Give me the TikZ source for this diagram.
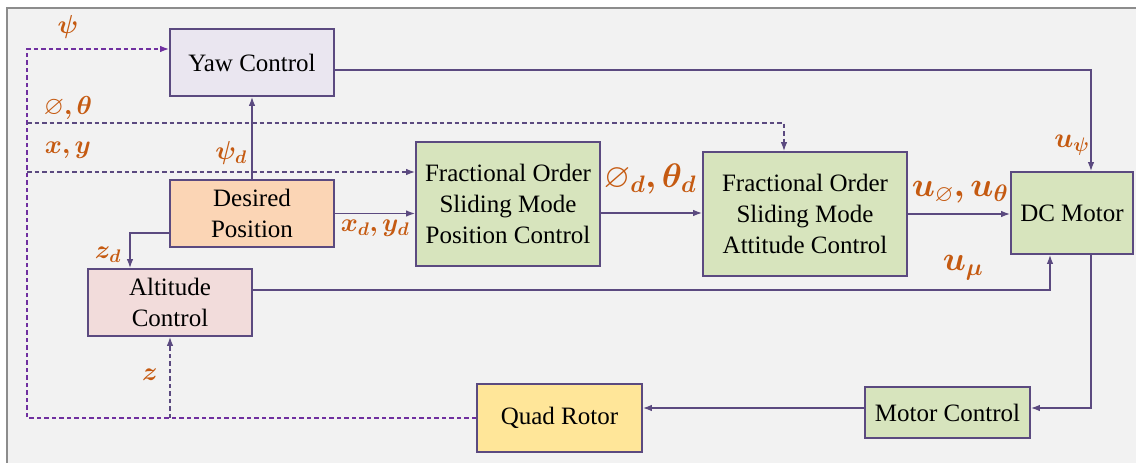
\RequirePackage{fix-cm}
\documentclass[tikz,border=0pt]{standalone}
\usepackage{amsmath,amssymb,bm}
\usepackage{fontspec}
\setmainfont{Liberation Serif}
\newfontfamily\boxfont{Liberation Serif}
\usetikzlibrary{arrows.meta, positioning, calc}

\definecolor{lineC}{HTML}{5B4A80}
\definecolor{fbC}{HTML}{7030A0}
\definecolor{lblC}{HTML}{C55A11}
\definecolor{bgC}{HTML}{F2F2F2}
\definecolor{frameC}{HTML}{8C8C8C}
\definecolor{yawC}{HTML}{EAE6F0}
\definecolor{desC}{HTML}{FBD5B5}
\definecolor{altC}{HTML}{F2DCDB}
\definecolor{fosC}{HTML}{D7E4BD}
\definecolor{quadC}{HTML}{FFE699}

\begin{document}
\begin{tikzpicture}[x=1pt, y=-1pt,
      blk/.style={draw=lineC, line width=1.6pt, inner sep=0pt, align=center,
                  font=\boxfont\fontsize{25}{31}\selectfont},
      sig/.style={draw=lineC, line width=1.6pt, -{Latex[length=9pt, width=6.5pt]}},
      dsig/.style={sig, dash pattern=on 4.5pt off 3pt},
      fb/.style={dsig, draw=fbC},
      lbl/.style={text=lblC, inner sep=0pt, font=\fontsize{26}{30}\selectfont},
      big/.style={lbl, font=\fontsize{34}{40}\selectfont}]

    % page and frame
    \useasboundingbox (0,0) rectangle (1136,463);
    \fill[white] (0,0) rectangle (1136,463);
    \fill[bgC] (7,8) rectangle (1136,463);
    \draw[frameC, line width=1.4pt] (7,463) -- (7,8) -- (1136,8);

    % blocks
    \node[blk, fill=yawC,  minimum width=164pt, minimum height=67pt]  (yaw)       at (252,62.5)  {Yaw Control};
    \node[blk, fill=desC,  minimum width=164pt, minimum height=67pt]  (desired)   at (252,213.5) {Desired\\Position};
    \node[blk, fill=altC,  minimum width=164pt, minimum height=67pt]  (alt)       at (170,302.5) {Altitude\\Control};
    \node[blk, fill=fosC,  minimum width=184pt, minimum height=124pt] (posctrl)   at (508,204)   {Fractional Order\\Sliding Mode\\Position Control};
    \node[blk, fill=fosC,  minimum width=204pt, minimum height=124pt] (attctrl)   at (805,214)   {Fractional Order\\Sliding Mode\\Attitude Control};
    \node[blk, fill=fosC,  minimum width=122pt, minimum height=82pt]  (dcm)       at (1072,213)  {DC Motor};
    \node[blk, fill=fosC,  minimum width=165pt, minimum height=51pt]  (motorctrl) at (947.5,412.5) {Motor Control};
    \node[blk, fill=quadC, minimum width=165pt, minimum height=68pt]  (quad)      at (559.5,418) {Quad Rotor};

    % feedback corners
    \coordinate (lt) at (27,49);
    \coordinate (lb) at (27,418);
    \coordinate (pt) at (27,123);
    \coordinate (xy) at (27,172);

    % feedback paths (dashed)
    \draw[fb] (quad.west) -- (lb) -- (lt) -- (lt -| yaw.west);
    \draw[dsig] (pt) -| ([xshift=-21pt]attctrl.north);
    \draw[dsig] (xy) -- (xy -| posctrl.west);
    \draw[dsig] (lb -| alt.south) -- (alt.south);

    % forward paths
    \draw[sig] (desired.north) -- (yaw.south);
    \draw[sig] (desired.east) -- (desired.east -| posctrl.west);
    \draw[sig] ([yshift=-19.5pt]desired.west) -| ([xshift=-40pt]alt.north);
    \draw[sig] ([yshift=-7.5pt]yaw.east) -| ([xshift=19pt]dcm.north);
    \draw[sig] ([yshift=12.5pt]alt.east) -| ([xshift=-22pt]dcm.south);
    \draw[sig] ([yshift=-9pt]posctrl.east) -- ([yshift=-9pt]posctrl.east -| attctrl.west);
    \draw[sig] (attctrl.east) -- (attctrl.east -| dcm.west);
    \draw[sig] ([xshift=19pt]dcm.south) |- ([yshift=4.5pt]motorctrl.east);
    \draw[sig] ([yshift=4.5pt]motorctrl.west) -- ([yshift=4.5pt]motorctrl.west -| quad.east);

    % signal labels
    \node[lbl] (lpsi)  at (68,27)   {$\bm{\psi}$};
    \node[lbl] (lphth) at (68,108)  {$\varnothing\bm{,\theta}$};
    \node[lbl] (lxy)   at (68,150)  {$\bm{x,y}$};
    \node[lbl] (lpsid) at (231,153) {$\bm{\psi_d}$};
    \node[lbl] (lxyd)  at (375,228) {$\bm{x_d,y_d}$};
    \node[lbl] (lzd)   at (108,255) {$\bm{z_d}$};
    \node[lbl] (lz)    at (150,375) {$\bm{z}$};
    \node[big] (lphd)  at (650,179) {$\varnothing_{\bm{d}}\bm{,\theta_d}$};
    \node[big] (lu)    at (960,192) {$\bm{u}_{\varnothing}\bm{,u_\theta}$};
    \node[big] (lumu)  at (963,268) {$\bm{u_\mu}$};
    \node[lbl, font=\fontsize{28}{32}\selectfont] (lupsi) at (1072,145) {$\bm{u_\psi}$};

\end{tikzpicture}
\end{document}
